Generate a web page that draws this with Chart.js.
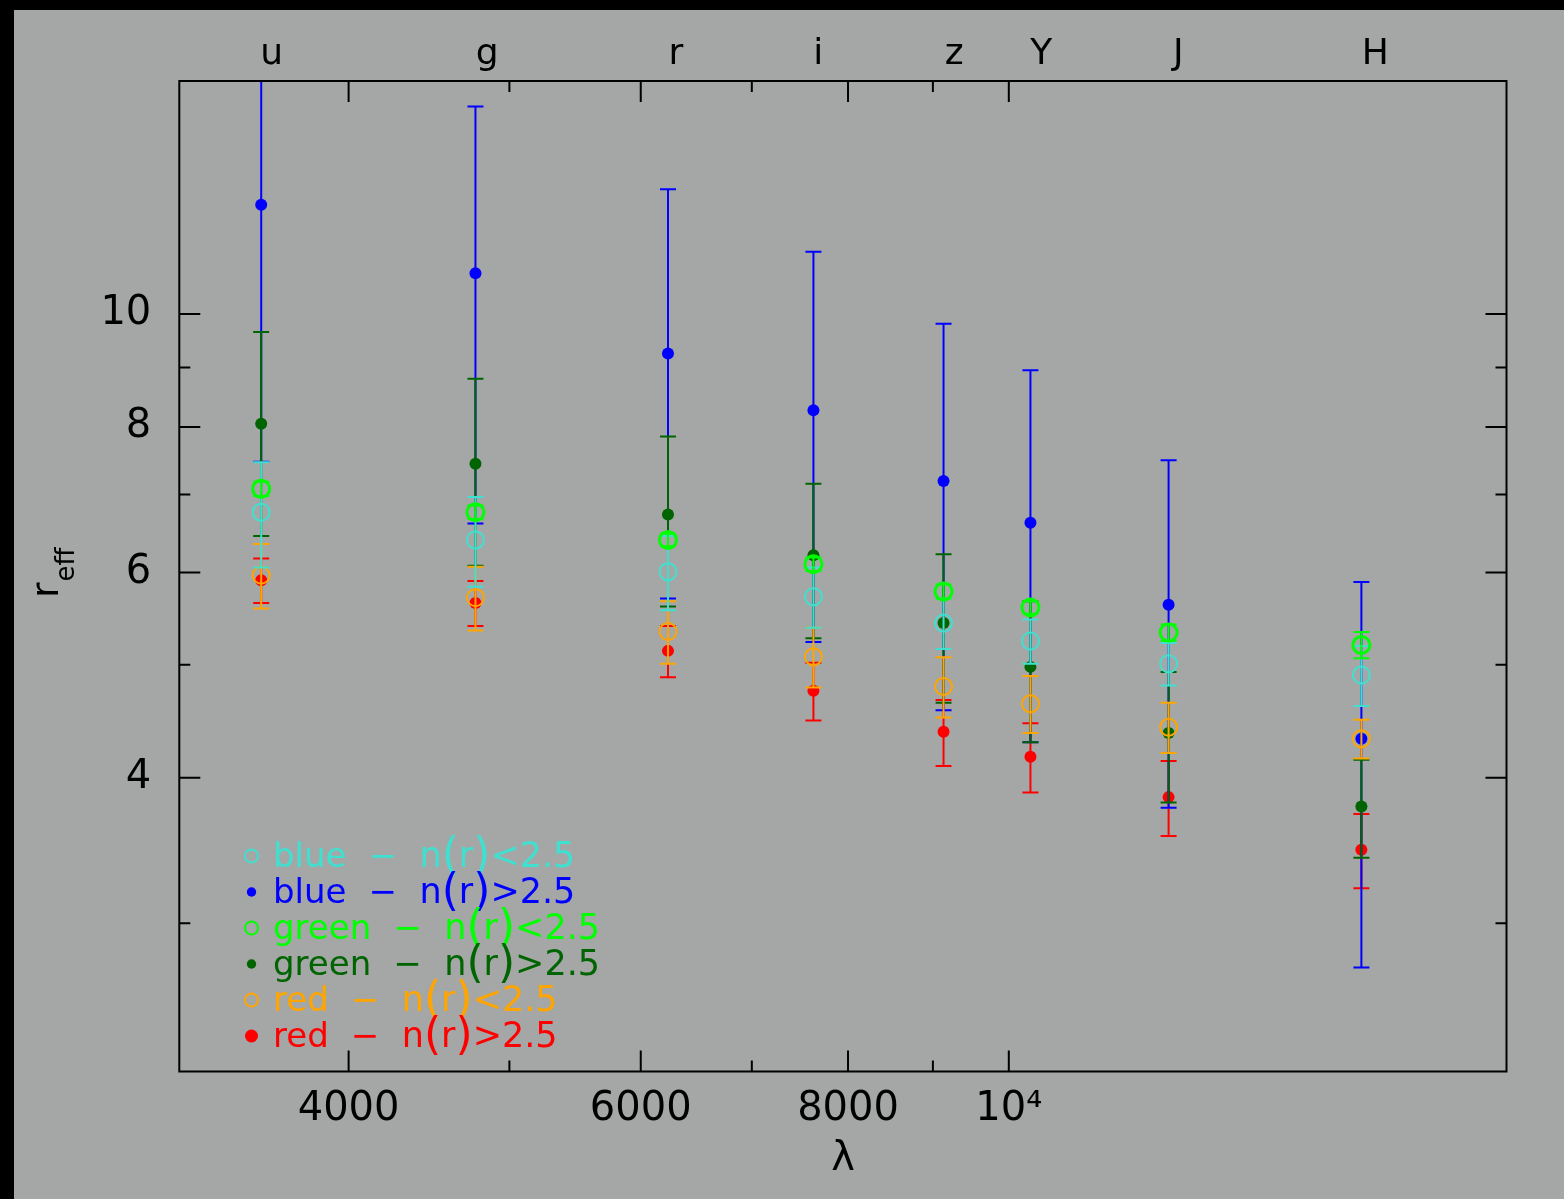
<!DOCTYPE html>
<html>
<head>
<meta charset="utf-8">
<script src="https://cdn.jsdelivr.net/npm/chart.js@4/dist/chart.umd.min.js"></script>
<style>
  html, body { margin: 0; padding: 0; background: #000; overflow: hidden; }
  #wrap { position: absolute; left: 0; top: 0; width: 1564px; height: 1199px; }
</style>
</head>
<body>
<div id="wrap"><canvas id="c" width="1564" height="1199"></canvas></div>
<script>
// Photometric bands: names, where the name sits on the top axis, and effective wavelengths (Å)
const bands = ['u', 'g', 'r', 'i', 'z', 'Y', 'J', 'H'];
const bandLabelAt = [3595, 4848, 6300, 7675, 9269, 10459, 12651, 16632];
const lambdaEff = [3543, 4770, 6231, 7625, 9134, 10305, 12483, 16313];

// Axis ticks
const xTickValues = [4000, 5000, 6000, 7000, 8000, 9000, 10000];
const xTickLabels = ['4000', '', '6000', '', '8000', '', '10\u2074'];
const xTickMajor = [true, false, true, false, true, false, true];
const yTickValues = [3, 4, 5, 6, 7, 8, 9, 10];
const yTickLabels = ['', '4', '', '6', '', '8', '', '10'];
const yTickMajor = [false, true, false, true, false, true, false, true];

// Effective radius per band and its error, for each colour / Sersic-index class
const blueLowN      = [6.76, 6.40, 6.01, 5.72, 5.43, 5.24, 5.01, 4.90];
const blueLowNErr   = [0.70, 0.565, 0.44, 0.34, 0.27, 0.23, 0.21, 0.29];
const blueHighN     = [12.41, 10.84, 9.25, 8.27, 7.19, 6.62, 5.63, 4.32];
const blueHighNErr  = [4.94, 4.23, 3.55, 3.04, 2.62, 2.33, 1.86, 1.57];
const greenLowN     = [7.08, 6.76, 6.40, 6.10, 5.78, 5.60, 5.33, 5.20];
const greenLowNErr  = [0.10, 0.09, 0.08, 0.08, 0.08, 0.07, 0.085, 0.135];
const greenHighN    = [8.05, 7.44, 6.73, 6.21, 5.43, 4.98, 4.37, 3.78];
const greenHighNErr = [1.60, 1.36, 1.12, 0.94, 0.79, 0.69, 0.56, 0.365];
const redLowN       = [5.97, 5.71, 5.34, 5.08, 4.79, 4.63, 4.42, 4.32];
const redLowNErr    = [0.38, 0.36, 0.33, 0.30, 0.285, 0.26, 0.22, 0.165];
const redHighN      = [5.91, 5.65, 5.14, 4.75, 4.38, 4.17, 3.85, 3.47];
const redHighNErr   = [0.26, 0.25, 0.26, 0.27, 0.285, 0.285, 0.285, 0.254];

const seriesGroup = ['blue', 'blue', 'green', 'green', 'red', 'red'];
const seriesCut = ['n(r)<2.5', 'n(r)>2.5', 'n(r)<2.5', 'n(r)>2.5', 'n(r)<2.5', 'n(r)>2.5'];

const FONT = "'DejaVu Sans', sans-serif";
const X_MIN = Math.pow(10, 3.5), X_MAX = Math.pow(10, 4.3);
const Y_MIN = Math.pow(10, 0.35), Y_MAX = Math.pow(10, 1.2);

// drawing style per series (order: lower number is drawn on top)
const styles = [
  { color: '#40e0d0', open: true,  ring: 2, dot: 0, key: 7,   order: 1 },
  { color: '#0000ff', open: false, ring: 0, dot: 6, key: 4.7, order: 4 },
  { color: '#00ff00', open: true,  ring: 3, dot: 0, key: 7,   order: 0 },
  { color: '#006400', open: false, ring: 0, dot: 6, key: 4.7, order: 3 },
  { color: '#ffa500', open: true,  ring: 2, dot: 0, key: 7,   order: 2 },
  { color: '#ff0000', open: false, ring: 0, dot: 6, key: 6.5, order: 5 }
];
const seriesValues = [blueLowN, blueHighN, greenLowN, greenHighN, redLowN, redHighN];
const seriesErrors = [blueLowNErr, blueHighNErr, greenLowNErr, greenHighNErr, redLowNErr, redHighNErr];

const datasets = seriesValues.map((vals, k) => {
  const st = styles[k];
  return {
    label: seriesGroup[k] + ' \u2212 ' + seriesCut[k],
    data: lambdaEff.map((lam, i) => ({ x: lam, y: vals[i] })),
    errors: seriesErrors[k],
    order: st.order,
    showLine: false,
    xAxisID: 'x',
    yAxisID: 'y',
    pointStyle: 'circle',
    pointRadius: st.open ? 8.5 : st.dot,
    pointHoverRadius: st.open ? 8.5 : st.dot,
    pointBorderWidth: st.open ? st.ring : 0,
    pointBorderColor: st.color,
    pointBackgroundColor: st.open ? 'rgba(0,0,0,0)' : st.color
  };
});

// page background: grey panel inside a thin black margin
const backdrop = {
  id: 'backdrop',
  beforeDraw(chart) {
    const c = chart.ctx;
    c.save();
    c.fillStyle = '#000';
    c.fillRect(0, 0, chart.width, chart.height);
    c.fillStyle = '#a4a7a6';
    c.fillRect(14, 10, chart.width - 14, chart.height - 10);
    c.restore();
  }
};

// vertical error bars with caps, drawn just beneath each dataset's markers
const errorBars = {
  id: 'errorBars',
  beforeDatasetDraw(chart, args) {
    const ds = chart.data.datasets[args.index];
    const xs = chart.scales.x, ys = chart.scales.y;
    const a = chart.chartArea, c = chart.ctx;
    c.save();
    c.beginPath();
    c.rect(a.left, a.top, a.right - a.left, a.bottom - a.top);
    c.clip();
    c.strokeStyle = ds.pointBorderColor;
    c.lineWidth = 2;
    ds.data.forEach((p, i) => {
      const e = ds.errors[i];
      const px = xs.getPixelForValue(p.x);
      const yHi = ys.getPixelForValue(p.y + e);
      const yLo = ys.getPixelForValue(p.y - e);
      c.beginPath();
      c.moveTo(px, yHi); c.lineTo(px, yLo);
      c.moveTo(px - 8, yHi); c.lineTo(px + 8, yHi);
      c.moveTo(px - 8, yLo); c.lineTo(px + 8, yLo);
      c.stroke();
    });
    c.restore();
  }
};

// box frame with inward tick marks on all four sides
const frameTicks = {
  id: 'frameTicks',
  afterDatasetsDraw(chart) {
    const c = chart.ctx, a = chart.chartArea;
    const xs = chart.scales.x, ys = chart.scales.y;
    c.save();
    c.strokeStyle = '#000';
    c.lineWidth = 2;
    c.strokeRect(a.left, a.top, a.right - a.left, a.bottom - a.top);
    c.beginPath();
    xs.ticks.forEach((t, i) => {
      const px = xs.getPixelForValue(t.value);
      const L = xTickMajor[i] ? 21 : 11;
      c.moveTo(px, a.bottom); c.lineTo(px, a.bottom - L);
      c.moveTo(px, a.top); c.lineTo(px, a.top + L);
    });
    ys.ticks.forEach((t, i) => {
      const py = ys.getPixelForValue(t.value);
      const L = yTickMajor[i] ? 21 : 11;
      c.moveTo(a.left, py); c.lineTo(a.left + L, py);
      c.moveTo(a.right, py); c.lineTo(a.right - L, py);
    });
    c.stroke();
    c.restore();
  }
};

// axis titles and the key in the lower-left corner
const annotations = {
  id: 'annotations',
  afterDraw(chart) {
    const c = chart.ctx;
    c.save();
    c.fillStyle = '#000';
    // x title
    c.font = '40px ' + FONT;
    c.textAlign = 'center';
    c.textBaseline = 'alphabetic';
    c.fillText('\u03bb', 843, 1170);
    // y title r_eff, rotated
    c.save();
    c.translate(58, 598);
    c.rotate(-Math.PI / 2);
    c.textAlign = 'left';
    c.font = '38px ' + FONT;
    c.fillText('r', 0, 0);
    const rw = c.measureText('r').width;
    c.font = '26px ' + FONT;
    c.fillText('eff', rw + 1, 16);
    c.restore();

    // key
    const x0 = 273, sx = 251.5;
    chart.data.datasets.forEach((ds, k) => {
      const st = styles[k];
      const base = 867 + 36 * k;
      const cy = base - 11;
      c.strokeStyle = st.color;
      c.fillStyle = st.color;
      c.beginPath();
      c.arc(sx, cy, st.open ? 6.5 : st.key, 0, Math.PI * 2);
      if (st.open) { c.lineWidth = 2; c.stroke(); } else { c.fill(); }
      c.textAlign = 'left';
      c.font = '34px ' + FONT;
      c.fillText(seriesGroup[k], x0, base);
      const ww = c.measureText(seriesGroup[k]).width;
      const xd = x0 + ww + 22;
      c.fillText('\u2212', xd, base);
      let xx = xd + 51;
      for (const ch of seriesCut[k]) {
        const paren = ch === '(' || ch === ')';
        c.font = (paren ? '44px ' : '35px ') + FONT;
        c.fillText(ch, xx, base + (paren ? 2 : 0));
        xx += c.measureText(ch).width;
      }
    });
    c.restore();
  }
};

new Chart(document.getElementById('c').getContext('2d'), {
  type: 'scatter',
  data: { datasets },
  options: {
    responsive: false,
    animation: false,
    devicePixelRatio: 1,
    events: [],
    layout: { padding: { left: 0, top: 0, right: 57.5, bottom: 0 } },
    plugins: { legend: { display: false }, tooltip: { enabled: false } },
    scales: {
      x: {
        type: 'logarithmic', position: 'bottom', min: X_MIN, max: X_MAX,
        afterBuildTicks: s => { s.ticks = xTickValues.map(v => ({ value: v })); },
        afterFit: s => { s.height = 127.5; },
        grid: { display: false, drawTicks: false },
        border: { display: false },
        ticks: {
          autoSkip: false, maxRotation: 0, minRotation: 0, padding: 14,
          color: '#000', font: { family: FONT, size: 40 },
          callback: (v, i) => xTickLabels[i]
        }
      },
      xTop: {
        type: 'logarithmic', position: 'top', min: X_MIN, max: X_MAX,
        afterBuildTicks: s => { s.ticks = bandLabelAt.map(v => ({ value: v })); },
        afterFit: s => { s.height = 81; },
        grid: { display: false, drawTicks: false },
        border: { display: false },
        ticks: {
          autoSkip: false, maxRotation: 0, minRotation: 0, padding: 5,
          color: '#000', font: { family: FONT, size: 36 },
          callback: (v, i) => bands[i]
        }
      },
      y: {
        type: 'logarithmic', position: 'left', min: Y_MIN, max: Y_MAX,
        afterBuildTicks: s => { s.ticks = yTickValues.map(v => ({ value: v })); },
        afterFit: s => { s.width = 179.3; },
        grid: { display: false, drawTicks: false },
        border: { display: false },
        ticks: {
          autoSkip: false, padding: 28,
          color: '#000', font: { family: FONT, size: 40 },
          callback: (v, i) => yTickLabels[i]
        }
      }
    }
  },
  plugins: [backdrop, errorBars, frameTicks, annotations]
});
</script>
</body>
</html>
